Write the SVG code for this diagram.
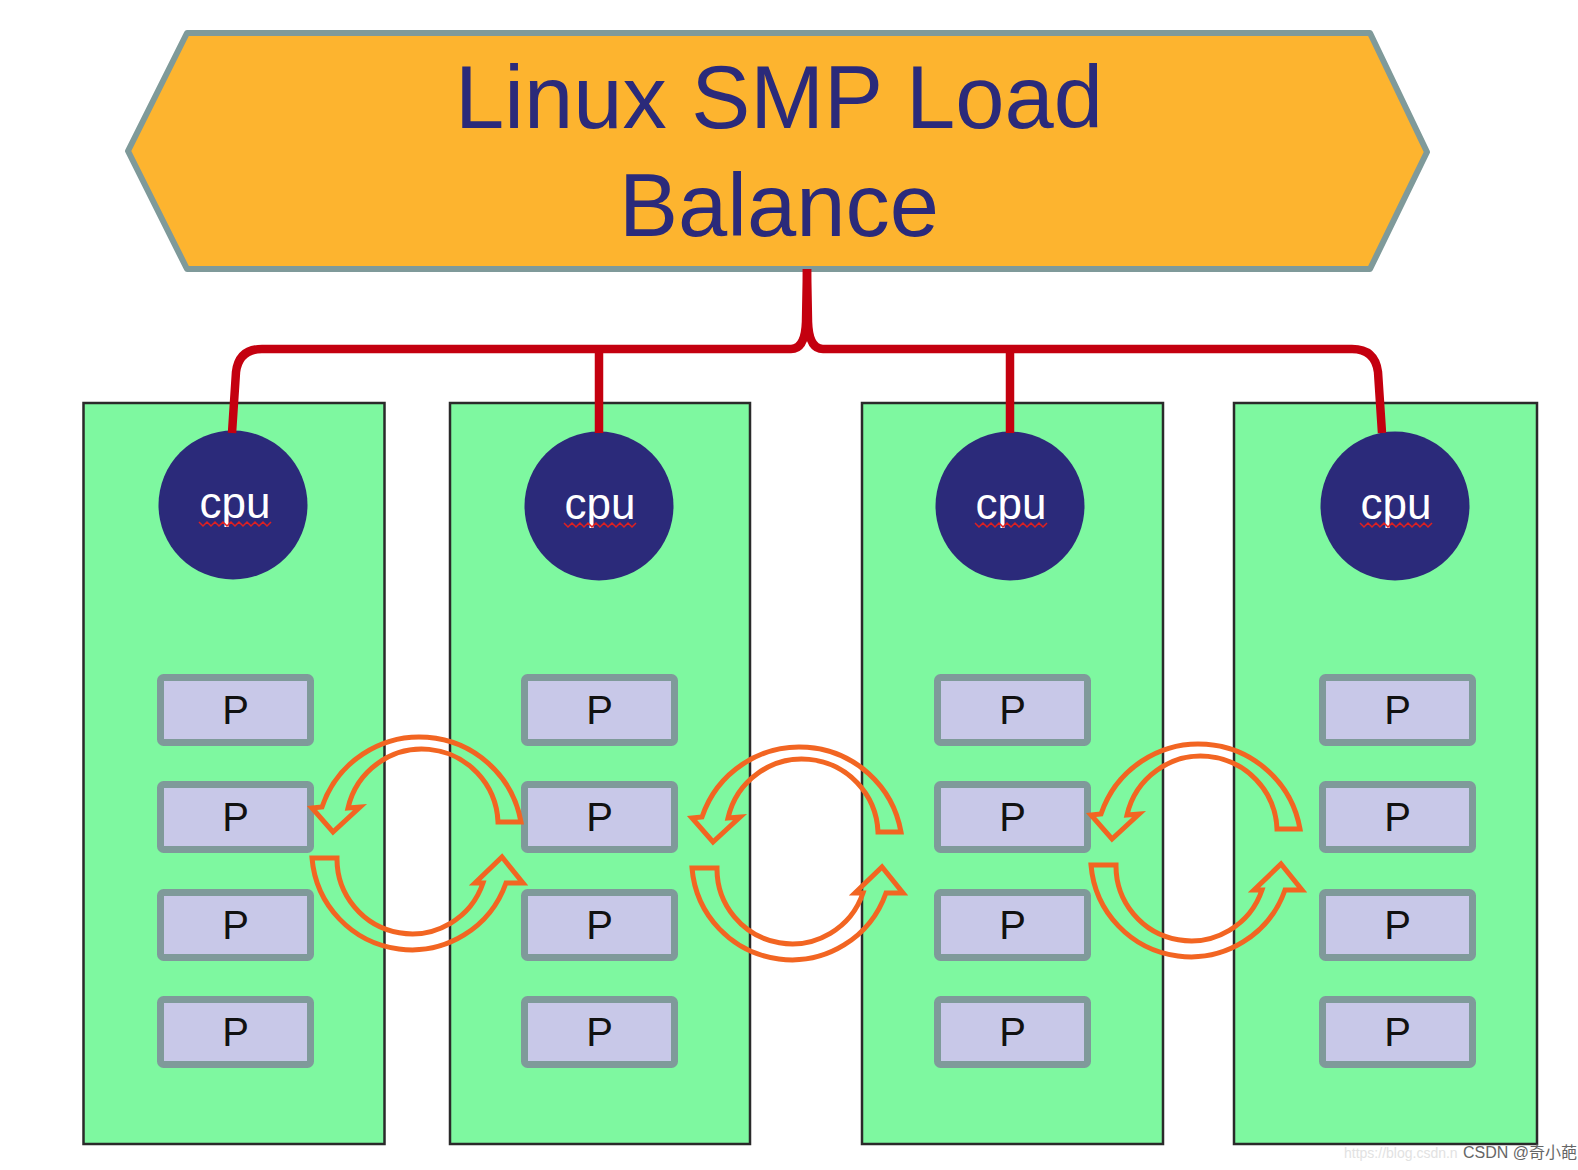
<svg xmlns="http://www.w3.org/2000/svg" width="1578" height="1170" viewBox="0 0 1578 1170">
<style>
.col{fill:#7ef8a0;stroke:#2a2a2a;stroke-width:2.5}
.cpu{fill:#2b2a7a}
.cput{font-family:"Liberation Sans",Arial,sans-serif;font-size:44px;fill:#fff;text-anchor:middle}
.wave{fill:none;stroke:#e02020;stroke-width:1.5}
.pb{fill:#c8c8e8;stroke:#7f9a9a;stroke-width:7}
.pt{font-family:"Liberation Sans",Arial,sans-serif;font-size:40px;fill:#111;text-anchor:middle}
.title{font-family:"Liberation Sans",Arial,sans-serif;font-size:88.5px;fill:#2b2a7a;text-anchor:middle}
.red{fill:none;stroke:#c4000f;stroke-width:8.5;stroke-linejoin:round;stroke-linecap:butt}
.arr{fill:none;stroke:#f26522;stroke-width:5;stroke-linejoin:miter}
</style>
<defs>
<g id="pbox">
<rect class="pb" x="0" y="-32.5" width="150" height="65" rx="3"/>
<text class="pt" x="75" y="14">P</text>
</g>
<g id="pcol">
<use href="#pbox" y="710"/>
<use href="#pbox" y="817"/>
<use href="#pbox" y="925"/>
<use href="#pbox" y="1032"/>
</g>
<polyline id="wv" class="wave" points="-36,0 -32,4 -28,0 -24,4 -20,0 -16,4 -12,0 -8,4 -4,0 0,4 4,0 8,4 12,0 16,4 20,0 24,4 28,0 32,4 36,0"/>
<g id="pair">
<path d="M521,822 A103,103 0 0 0 322,807 L312,808 L333,832 L360,807 L348,808 A76,76 0 0 1 498,822 Z"/>
<path d="M312,858 A100,100 0 0 0 506,883 L523,883 L502,857 L475,883 L483,883 A75,75 0 0 1 337,858 Z"/>
</g>
</defs>
<rect width="1578" height="1170" fill="#fff"/>

<g id="title">
<polygon points="187,33 1370,33 1427,152 1370,269 187,269 128,151" fill="#fdb42f" stroke="#7f9a9a" stroke-width="6" stroke-linejoin="round"/>
<text class="title" x="779" y="128">Linux SMP Load</text>
<text class="title" x="779" y="236">Balance</text>
</g>

<g id="col1">
<rect class="col" x="83.5" y="403" width="301" height="741"/>
<g id="cpu1"><circle class="cpu" cx="233" cy="505" r="74.5"/><text class="cput" x="235" y="518">cpu</text><use href="#wv" x="235" y="522"/></g>
<use href="#pcol" x="160.5"/>
</g>
<g id="col2">
<rect class="col" x="450" y="403" width="300" height="741"/>
<g id="cpu2"><circle class="cpu" cx="599" cy="506" r="74.5"/><text class="cput" x="600" y="519">cpu</text><use href="#wv" x="600" y="523"/></g>
<use href="#pcol" x="524.5"/>
</g>
<g id="col3">
<rect class="col" x="862" y="403" width="301" height="741"/>
<g id="cpu3"><circle class="cpu" cx="1010" cy="506" r="74.5"/><text class="cput" x="1011" y="519">cpu</text><use href="#wv" x="1011" y="523"/></g>
<use href="#pcol" x="937.5"/>
</g>
<g id="col4">
<rect class="col" x="1234" y="403" width="303" height="741"/>
<g id="cpu4"><circle class="cpu" cx="1395" cy="506" r="74.5"/><text class="cput" x="1396" y="519">cpu</text><use href="#wv" x="1396" y="523"/></g>
<use href="#pcol" x="1322.5"/>
</g>

<g id="connectors">
<path class="red" d="M232,433 L236,372 Q239,349 262,349 L791,349 Q805,349 806,322 L807,269"/>
<path class="red" d="M1382,433 L1378,372 Q1375,349 1352,349 L823,349 Q809,349 808,322 L807,269"/>
<path class="red" d="M599,349 L599,433"/>
<path class="red" d="M1010,349 L1010,433"/>
</g>

<g id="balance-arrows" class="arr">
<use href="#pair"/>
<use href="#pair" transform="translate(380,10)"/>
<use href="#pair" transform="translate(779,7)"/>
</g>

<g id="watermark" font-family="'Liberation Sans','Noto Sans CJK SC',sans-serif">
<text x="1344" y="1158" font-size="14" fill="#e2e2e2">https://blog.csdn.n</text>
<text x="1463" y="1158" font-size="16" fill="#666">CSDN @奇小葩</text>
</g>
</svg>
